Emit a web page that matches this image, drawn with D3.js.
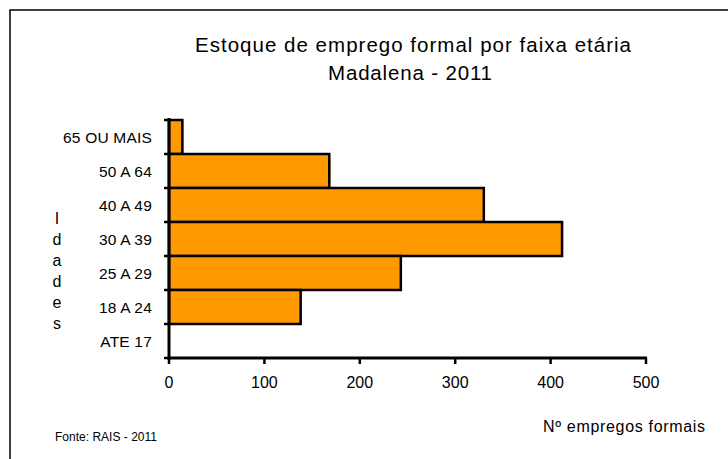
<!DOCTYPE html>
<html><head><meta charset="utf-8">
<script src="https://cdn.jsdelivr.net/npm/d3@7"></script>
<style>body{margin:0;background:#fff}svg{display:block;font-family:"Liberation Sans",Arial,sans-serif}</style>
</head><body>
<svg id="c" width="728" height="459"></svg>
<script>
const categories = ["65 OU MAIS","50 A 64","40 A 49","30 A 39","25 A 29","18 A 24","ATE 17"];
const values = [14, 168, 330, 412, 243, 138, 0];
const xTicks = [0,100,200,300,400,500];
const titleLines = ["Estoque de emprego formal por faixa etária","Madalena - 2011"];
const yTitleLetters = ["I","d","a","d","e","s"];

const svg = d3.select("#c");
svg.append("rect").attr("x",10).attr("y",10).attr("width",800).attr("height",600)
  .attr("fill","none").attr("stroke","#000").attr("stroke-width",1.5);

const x = d3.scaleLinear().domain([0,500]).range([169,646]);
const y = d3.scaleBand().domain(categories).range([120,358]).padding(0);

const data = categories.map((c,i)=>({c, v: values[i]}));
svg.append("g").selectAll("rect").data(data.filter(d=>d.v>0)).join("rect")
  .attr("x", x(0)+1).attr("y", d=>y(d.c)+1)
  .attr("width", d=>x(d.v)-x(0)).attr("height", y.bandwidth())
  .attr("fill","#FF9900");
svg.append("g").selectAll("rect").data(data.filter(d=>d.v>0)).join("rect")
  .attr("x", x(0)).attr("y", d=>y(d.c))
  .attr("width", d=>x(d.v)-x(0)).attr("height", y.bandwidth())
  .attr("fill","#FF9900").attr("stroke","#000").attr("stroke-width",2.5);

// y axis
const ya = svg.append("g");
ya.append("line").attr("x1",x(0)).attr("x2",x(0)).attr("y1",118).attr("y2",360)
  .attr("stroke","#000").attr("stroke-width",3);
const yTickPos = categories.map(c=>y(c)).concat([y.range()[1]]);
ya.selectAll("line.t").data(yTickPos).join("line").attr("class","t")
  .attr("x1",x(0)-5).attr("x2",x(0)).attr("y1",d=>d).attr("y2",d=>d)
  .attr("stroke","#000").attr("stroke-width",2.5);
ya.selectAll("text").data(categories).join("text")
  .attr("x",152).attr("y",d=>y(d)+y.bandwidth()/2+6)
  .attr("text-anchor","end").attr("font-size",15.5).attr("letter-spacing",0.2)
  .attr("fill","#000").text(d=>d);

// x axis
const xa = svg.append("g");
xa.append("line").attr("x1",x(0)-1).attr("x2",x(500)+1).attr("y1",358).attr("y2",358)
  .attr("stroke","#000").attr("stroke-width",3);
xa.selectAll("line.t").data(xTicks).join("line").attr("class","t")
  .attr("x1",d=>x(d)).attr("x2",d=>x(d)).attr("y1",358).attr("y2",364)
  .attr("stroke","#000").attr("stroke-width",2.5);
xa.selectAll("text").data(xTicks).join("text")
  .attr("x",d=>x(d)).attr("y",388).attr("text-anchor","middle")
  .attr("font-size",16).attr("fill","#000").text(d=>d);

// title
const tl = svg.append("g");
tl.append("text").attr("x",413).attr("y",52).attr("text-anchor","middle")
  .attr("font-size",20.5).attr("textLength",436).attr("lengthAdjust","spacing")
  .attr("fill","#000").text(titleLines[0]);
tl.append("text").attr("x",410).attr("y",80).attr("text-anchor","middle")
  .attr("font-size",20.5).attr("textLength",164).attr("lengthAdjust","spacing")
  .attr("fill","#000").text(titleLines[1]);

// y title letters
svg.append("g").selectAll("text").data(yTitleLetters).join("text")
  .attr("x",57).attr("y",(d,i)=>224+i*21).attr("text-anchor","middle")
  .attr("font-size",16).attr("fill","#000").text(d=>d);

svg.append("text").attr("x",55).attr("y",441).attr("font-size",12)
  .attr("textLength",102).attr("lengthAdjust","spacing")
  .attr("fill","#000").text("Fonte: RAIS - 2011");
svg.append("text").attr("x",543).attr("y",432).attr("font-size",16)
  .attr("textLength",162).attr("lengthAdjust","spacing")
  .attr("fill","#000").text("Nº empregos formais");
</script>
</body></html>
